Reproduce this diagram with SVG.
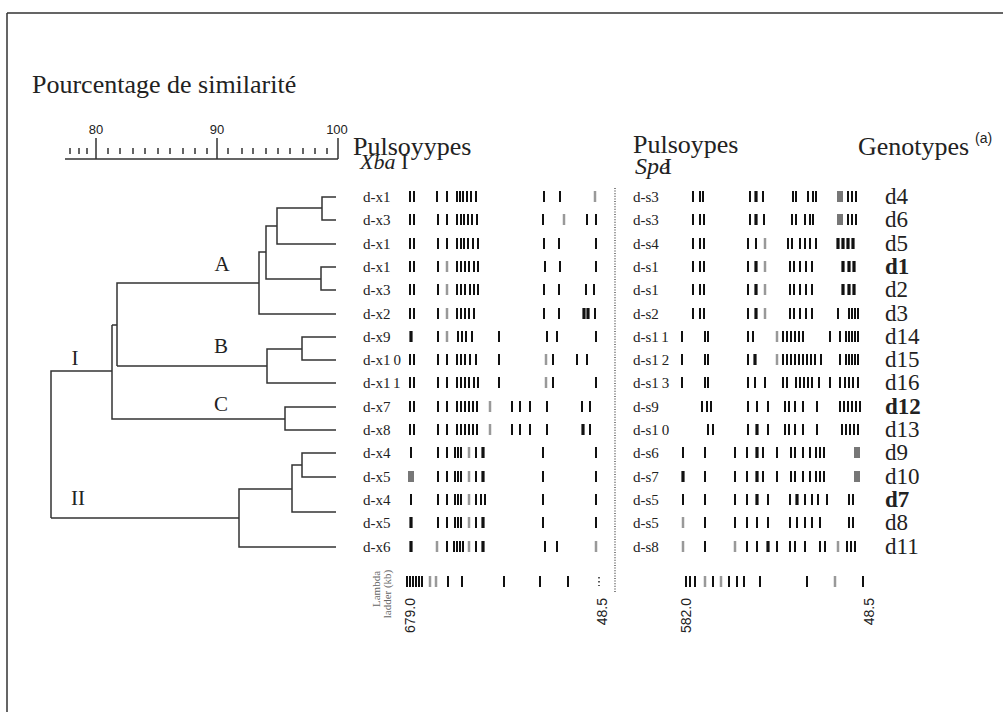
<svg xmlns="http://www.w3.org/2000/svg" width="1003" height="712" viewBox="0 0 1003 712">
<style>
.t{font-family:"Liberation Serif","Times New Roman",serif;fill:#222}
.s{font-family:"Liberation Sans",Arial,sans-serif;fill:#222}
.lb{font-size:15px}
.gt{font-size:23px}
.b{font-weight:bold}
.ln{fill:none;stroke:#333;stroke-width:1.5}
.k{fill:none;stroke:#111;stroke-width:2}
.kk{fill:none;stroke:#111;stroke-width:3.2}
.g{fill:none;stroke:#999;stroke-width:2.5}
.gb{fill:none;stroke:#777;stroke-width:6}
</style>
<g id="frame"><path class="ln" d="M7 13H1003M7 13V712" stroke-width="1.3"/></g>
<g id="title"><text class="t" x="32" y="93" font-size="26">Pourcentage de similarité</text></g>
<g id="scale">
<path class="ln" d="M65 159H338M96 138V159M217 138V159M338 138V159"/>
<path class="ln" stroke-width="1.2" d="M70 148v6M79 148v6M87 148v6M108 148v6M120 148v6M133 148v6M145 148v6M158 148v6M170 148v6M183 148v6M195 148v6M207 148v6M228 148v6M242 148v6M253 148v6M266 148v6M278 148v6M290 148v6M303 148v6M315 148v6M327 148v6"/>
<text class="s" x="96" y="134" font-size="13" text-anchor="middle">80</text>
<text class="s" x="217" y="134" font-size="13" text-anchor="middle">90</text>
<text class="s" x="337" y="134" font-size="13" text-anchor="middle">100</text>
</g>
<g id="headers">
<text class="t" x="353" y="155" font-size="26">Pulsoyypes</text>
<text class="t" x="360" y="169" font-size="22"><tspan font-style="italic">Xba</tspan> I</text>
<text class="t" x="633" y="153" font-size="26">Pulsoypes</text>
<text class="t" x="635" y="174" font-size="24"><tspan font-style="italic">Spe</tspan><tspan x="664">I</tspan></text>
<text class="t" x="858" y="155" font-size="26">Genotypes</text>
<text class="s" x="975" y="143" font-size="14">(a)</text>
</g>
<g id="dendrogram">
<path class="ln" d="M336 197H322V220H336M322 208H277V244H336M277 226H266V279H321M336 267H321V290H336M266 252H259V314H336M259 283H117V366M117 325H112M336 337H302V360H336M302 349H267V383H336M267 366H117M336 407H285V430H336M285 419H112V325M112 371H51V518M336 453H302V477H336M302 465H292V512H336M292 489H239V547H336M239 518H51"/>
<text class="t" x="222" y="271" font-size="21" text-anchor="middle">A</text>
<text class="t" x="221" y="353" font-size="21" text-anchor="middle">B</text>
<text class="t" x="221" y="411" font-size="21" text-anchor="middle">C</text>
<text class="t" x="75" y="365" font-size="21" text-anchor="middle">I</text>
<text class="t" x="78" y="505" font-size="21" text-anchor="middle">II</text>
</g>
<g id="separator"><path d="M615 188V592" stroke="#444" stroke-width="1.3" stroke-dasharray="1 1.6" fill="none"/></g>
<g id="xba-labels" class="t lb">
<text x="363" y="202">d-x1</text><text x="363" y="225">d-x3</text><text x="363" y="249">d-x1</text><text x="363" y="272">d-x1</text><text x="363" y="295">d-x3</text><text x="363" y="319">d-x2</text><text x="363" y="342">d-x9</text><text x="363" y="365">d-x1<tspan dx="3">0</tspan></text><text x="363" y="388">d-x1<tspan dx="3">1</tspan></text><text x="363" y="412">d-x7</text><text x="363" y="435">d-x8</text><text x="363" y="458">d-x4</text><text x="363" y="482">d-x5</text><text x="363" y="505">d-x4</text><text x="363" y="528">d-x5</text><text x="363" y="552">d-x6</text>
</g>
<g id="spe-labels" class="t lb">
<text x="633" y="202">d-s3</text><text x="633" y="225">d-s3</text><text x="633" y="249">d-s4</text><text x="633" y="272">d-s1</text><text x="633" y="295">d-s1</text><text x="633" y="319">d-s2</text><text x="633" y="342">d-s1<tspan dx="3">1</tspan></text><text x="633" y="365">d-s1<tspan dx="3">2</tspan></text><text x="633" y="388">d-s1<tspan dx="3">3</tspan></text><text x="633" y="412">d-s9</text><text x="633" y="435">d-s1<tspan dx="3">0</tspan></text><text x="633" y="458">d-s6</text><text x="633" y="482">d-s7</text><text x="633" y="505">d-s5</text><text x="633" y="528">d-s5</text><text x="633" y="552">d-s8</text>
</g>
<g id="genotypes" class="t gt">
<text x="885" y="204">d4</text><text x="885" y="227">d6</text><text x="885" y="251">d5</text><text x="885" y="274" class="b">d1</text><text x="885" y="297">d2</text><text x="885" y="321">d3</text><text x="885" y="344">d14</text><text x="885" y="367">d15</text><text x="885" y="390">d16</text><text x="885" y="414" class="b">d12</text><text x="885" y="437">d13</text><text x="885" y="460">d9</text><text x="885" y="484">d10</text><text x="885" y="507" class="b">d7</text><text x="885" y="530">d8</text><text x="885" y="554">d11</text>
</g>
<g id="xba-bands">
<g transform="translate(0,191)"><path class="k" d="M410 0v11M414 0v11M437 0v11M447 0v11M457 0v11M460 0v11M463 0v11M467 0v11M471 0v11M476 0v11M544 0v11M560 0v11"/><path class="g" d="M595 0v11"/></g>
<g transform="translate(0,214)"><path class="k" d="M410 0v11M414 0v11M438 0v11M447 0v11M457 0v11M461 0v11M464 0v11M468 0v11M472 0v11M477 0v11M543 0v11M587 0v11M596 0v11"/><path class="g" d="M564 0v11"/></g>
<g transform="translate(0,238)"><path class="k" d="M410 0v11M414 0v11M438 0v11M447 0v11M457 0v11M461 0v11M464 0v11M468 0v11M473 0v11M478 0v11M544 0v11M559 0v11M596 0v11"/></g>
<g transform="translate(0,261)"><path class="k" d="M410 0v11M414 0v11M438 0v11M457 0v11M461 0v11M465 0v11M469 0v11M474 0v11M478 0v11M545 0v11M560 0v11M596 0v11"/><path class="g" d="M447 0v11"/></g>
<g transform="translate(0,284)"><path class="k" d="M410 0v11M414 0v11M438 0v11M457 0v11M461 0v11M465 0v11M470 0v11M474 0v11M478 0v11M544 0v11M559 0v11M586 0v11M594 0v11"/><path class="g" d="M447 0v11"/></g>
<g transform="translate(0,308)"><path class="k" d="M410 0v11M414 0v11M438 0v11M457 0v11M461 0v11M465 0v11M469 0v11M474 0v11M544 0v11M559 0v11M595 0v11"/><path class="kk" d="M584 0v11M588 0v11"/><path class="g" d="M447 0v11"/></g>
<g transform="translate(0,331)"><path class="kk" d="M411 0v11"/><path class="k" d="M438 0v11M458 0v11M462 0v11M466 0v11M472 0v11M499 0v11M547 0v11M557 0v11M596 0v11"/><path class="g" d="M447 0v11"/></g>
<g transform="translate(0,354)"><path class="k" d="M410 0v11M414 0v11M438 0v11M447 0v11M457 0v11M461 0v11M465 0v11M470 0v11M476 0v11M499 0v11M553 0v11M577 0v11M587 0v11"/><path class="g" d="M546 0v11"/></g>
<g transform="translate(0,377)"><path class="k" d="M410 0v11M414 0v11M438 0v11M447 0v11M457 0v11M461 0v11M465 0v11M469 0v11M474 0v11M478 0v11M499 0v11M553 0v11M596 0v11"/><path class="g" d="M546 0v11"/></g>
<g transform="translate(0,401)"><path class="k" d="M410 0v11M414 0v11M438 0v11M447 0v11M457 0v11M461 0v11M465 0v11M469 0v11M473 0v11M477 0v11M512 0v11M520 0v11M530 0v11M547 0v11M582 0v11M590 0v11"/><path class="g" d="M490 0v11"/></g>
<g transform="translate(0,424)"><path class="k" d="M410 0v11M414 0v11M438 0v11M447 0v11M457 0v11M461 0v11M465 0v11M469 0v11M473 0v11M477 0v11M512 0v11M520 0v11M530 0v11M547 0v11M590 0v11"/><path class="kk" d="M583 0v11"/><path class="g" d="M490 0v11"/></g>
<g transform="translate(0,447)"><path class="k" d="M411 0v11M438 0v11M447 0v11M455 0v11M458 0v11M461 0v11M476 0v11M543 0v11M596 0v11"/><path class="kk" d="M483 0v11"/><path class="g" d="M469 0v11"/></g>
<g transform="translate(0,471)"><path class="gb" d="M411 0v11"/><path class="k" d="M438 0v11M447 0v11M455 0v11M458 0v11M461 0v11M476 0v11M543 0v11M596 0v11"/><path class="kk" d="M483 0v11"/><path class="g" d="M469 0v11"/></g>
<g transform="translate(0,494)"><path class="k" d="M411 0v11M438 0v11M447 0v11M455 0v11M458 0v11M461 0v11M476 0v11M481 0v11M485 0v11M543 0v11M596 0v11"/><path class="g" d="M469 0v11"/></g>
<g transform="translate(0,517)"><path class="kk" d="M411 0v11M483 0v11"/><path class="k" d="M438 0v11M447 0v11M455 0v11M458 0v11M461 0v11M476 0v11M543 0v11M596 0v11"/><path class="g" d="M469 0v11"/></g>
<g transform="translate(0,541)"><path class="kk" d="M411 0v11M483 0v11"/><path class="k" d="M447 0v11M454 0v11M457 0v11M460 0v11M463 0v11M476 0v11M545 0v11M557 0v11"/><path class="g" d="M437 0v11M469 0v11M596 0v11"/></g>
</g>
<g id="spe-bands">
<g transform="translate(0,191)"><path class="k" d="M693 0v11M700 0v11M703 0v11M750 0v11M763 0v11M793 0v11M796 0v11M808 0v11M813 0v11M816 0v11M848 0v11M852 0v11M856 0v11"/><path class="kk" d="M756 0v11"/><path class="gb" d="M840 0v11"/></g>
<g transform="translate(0,214)"><path class="k" d="M693 0v11M700 0v11M704 0v11M750 0v11M764 0v11M792 0v11M796 0v11M805 0v11M810 0v11M813 0v11M848 0v11M852 0v11M856 0v11"/><path class="kk" d="M756 0v11"/><path class="gb" d="M840 0v11"/></g>
<g transform="translate(0,238)"><path class="k" d="M693 0v11M700 0v11M704 0v11M748 0v11M756 0v11M788 0v11M792 0v11M800 0v11M805 0v11M810 0v11M816 0v11"/><path class="kk" d="M838 0v11M843 0v11M848 0v11M853 0v11"/><path class="g" d="M765 0v11"/></g>
<g transform="translate(0,261)"><path class="k" d="M693 0v11M700 0v11M704 0v11M748 0v11M790 0v11M794 0v11M800 0v11M806 0v11M812 0v11"/><path class="kk" d="M756 0v11M843 0v11M849 0v11M854 0v11"/><path class="g" d="M765 0v11"/></g>
<g transform="translate(0,284)"><path class="k" d="M693 0v11M700 0v11M704 0v11M748 0v11M790 0v11M794 0v11M800 0v11M806 0v11M812 0v11"/><path class="kk" d="M756 0v11M843 0v11M849 0v11M854 0v11"/><path class="g" d="M765 0v11"/></g>
<g transform="translate(0,308)"><path class="k" d="M693 0v11M700 0v11M704 0v11M748 0v11M790 0v11M794 0v11M800 0v11M806 0v11M812 0v11M838 0v11M849 0v11M852 0v11M855 0v11M858 0v11"/><path class="kk" d="M756 0v11"/><path class="g" d="M765 0v11"/></g>
<g transform="translate(0,331)"><path class="k" d="M682 0v11M705 0v11M708 0v11M748 0v11M753 0v11M783 0v11M787 0v11M791 0v11M795 0v11M799 0v11M803 0v11M830 0v11M840 0v11M846 0v11M849 0v11M852 0v11M855 0v11M858 0v11"/><path class="g" d="M777 0v11"/></g>
<g transform="translate(0,354)"><path class="k" d="M682 0v11M705 0v11M708 0v11M748 0v11M783 0v11M787 0v11M791 0v11M795 0v11M799 0v11M803 0v11M807 0v11M811 0v11M815 0v11M821 0v11M840 0v11M846 0v11M849 0v11M852 0v11M855 0v11M858 0v11"/><path class="kk" d="M755 0v11"/><path class="g" d="M777 0v11"/></g>
<g transform="translate(0,377)"><path class="k" d="M682 0v11M705 0v11M708 0v11M748 0v11M755 0v11M765 0v11M783 0v11M787 0v11M796 0v11M800 0v11M804 0v11M808 0v11M812 0v11M819 0v11M830 0v11M840 0v11M845 0v11M849 0v11M853 0v11M858 0v11"/></g>
<g transform="translate(0,401)"><path class="k" d="M702 0v11M707 0v11M711 0v11M748 0v11M757 0v11M768 0v11M785 0v11M789 0v11M795 0v11M803 0v11M817 0v11M840 0v11M844 0v11M848 0v11M852 0v11M856 0v11M860 0v11"/></g>
<g transform="translate(0,424)"><path class="k" d="M708 0v11M713 0v11M748 0v11M768 0v11M785 0v11M789 0v11M795 0v11M803 0v11M817 0v11M842 0v11M846 0v11M850 0v11M854 0v11M858 0v11"/><path class="kk" d="M757 0v11"/></g>
<g transform="translate(0,447)"><path class="k" d="M683 0v11M705 0v11M735 0v11M747 0v11M763 0v11M777 0v11M791 0v11M795 0v11M803 0v11M810 0v11M816 0v11M820 0v11M824 0v11"/><path class="kk" d="M757 0v11"/><path class="gb" d="M857 0v11"/></g>
<g transform="translate(0,471)"><path class="kk" d="M683 0v11M757 0v11"/><path class="k" d="M705 0v11M735 0v11M747 0v11M763 0v11M777 0v11M791 0v11M795 0v11M803 0v11M810 0v11M816 0v11M820 0v11M824 0v11"/><path class="gb" d="M857 0v11"/></g>
<g transform="translate(0,494)"><path class="k" d="M683 0v11M705 0v11M735 0v11M747 0v11M768 0v11M790 0v11M805 0v11M812 0v11M818 0v11M827 0v11M849 0v11M853 0v11"/><path class="kk" d="M757 0v11M797 0v11"/></g>
<g transform="translate(0,517)"><path class="k" d="M705 0v11M735 0v11M747 0v11M757 0v11M768 0v11M790 0v11M797 0v11M805 0v11M812 0v11M820 0v11M849 0v11M853 0v11"/><path class="g" d="M683 0v11"/></g>
<g transform="translate(0,541)"><path class="k" d="M705 0v11M747 0v11M757 0v11M777 0v11M790 0v11M795 0v11M805 0v11M820 0v11M825 0v11M847 0v11M851 0v11M855 0v11"/><path class="kk" d="M768 0v11"/><path class="g" d="M683 0v11M735 0v11M838 0v11"/></g>
</g>
<g id="ladder">
<g transform="translate(0,576)"><path class="k" d="M407 0v11M410 0v11M413 0v11M416 0v11M419 0v11M422 0v11M448 0v11M462 0v11M504 0v11M540 0v11M568 0v11M686 0v11M690 0v11M695 0v11M713 0v11M729 0v11M737 0v11M744 0v11M760 0v11M807 0v11M863 0v11"/><path class="g" d="M430 0v11M436 0v11M705 0v11M721 0v11M835 0v11"/><path d="M599 1v9" stroke="#333" stroke-width="1.6" stroke-dasharray="1.5 2.5" fill="none"/></g>
<text class="t" font-size="11" style="fill:#666" text-anchor="middle" transform="translate(380,589) rotate(-90)">Lambda</text>
<text class="t" font-size="11" style="fill:#666" text-anchor="middle" transform="translate(391,594) rotate(-90)">ladder (kb)</text>
<text class="s" font-size="14" text-anchor="end" transform="translate(415,598) rotate(-90)">679.0</text>
<text class="s" font-size="14" text-anchor="end" transform="translate(607,598) rotate(-90)">48.5</text>
<text class="s" font-size="14" text-anchor="end" transform="translate(691,598) rotate(-90)">582.0</text>
<text class="s" font-size="14" text-anchor="end" transform="translate(874,598) rotate(-90)">48.5</text>
</g>
</svg>
